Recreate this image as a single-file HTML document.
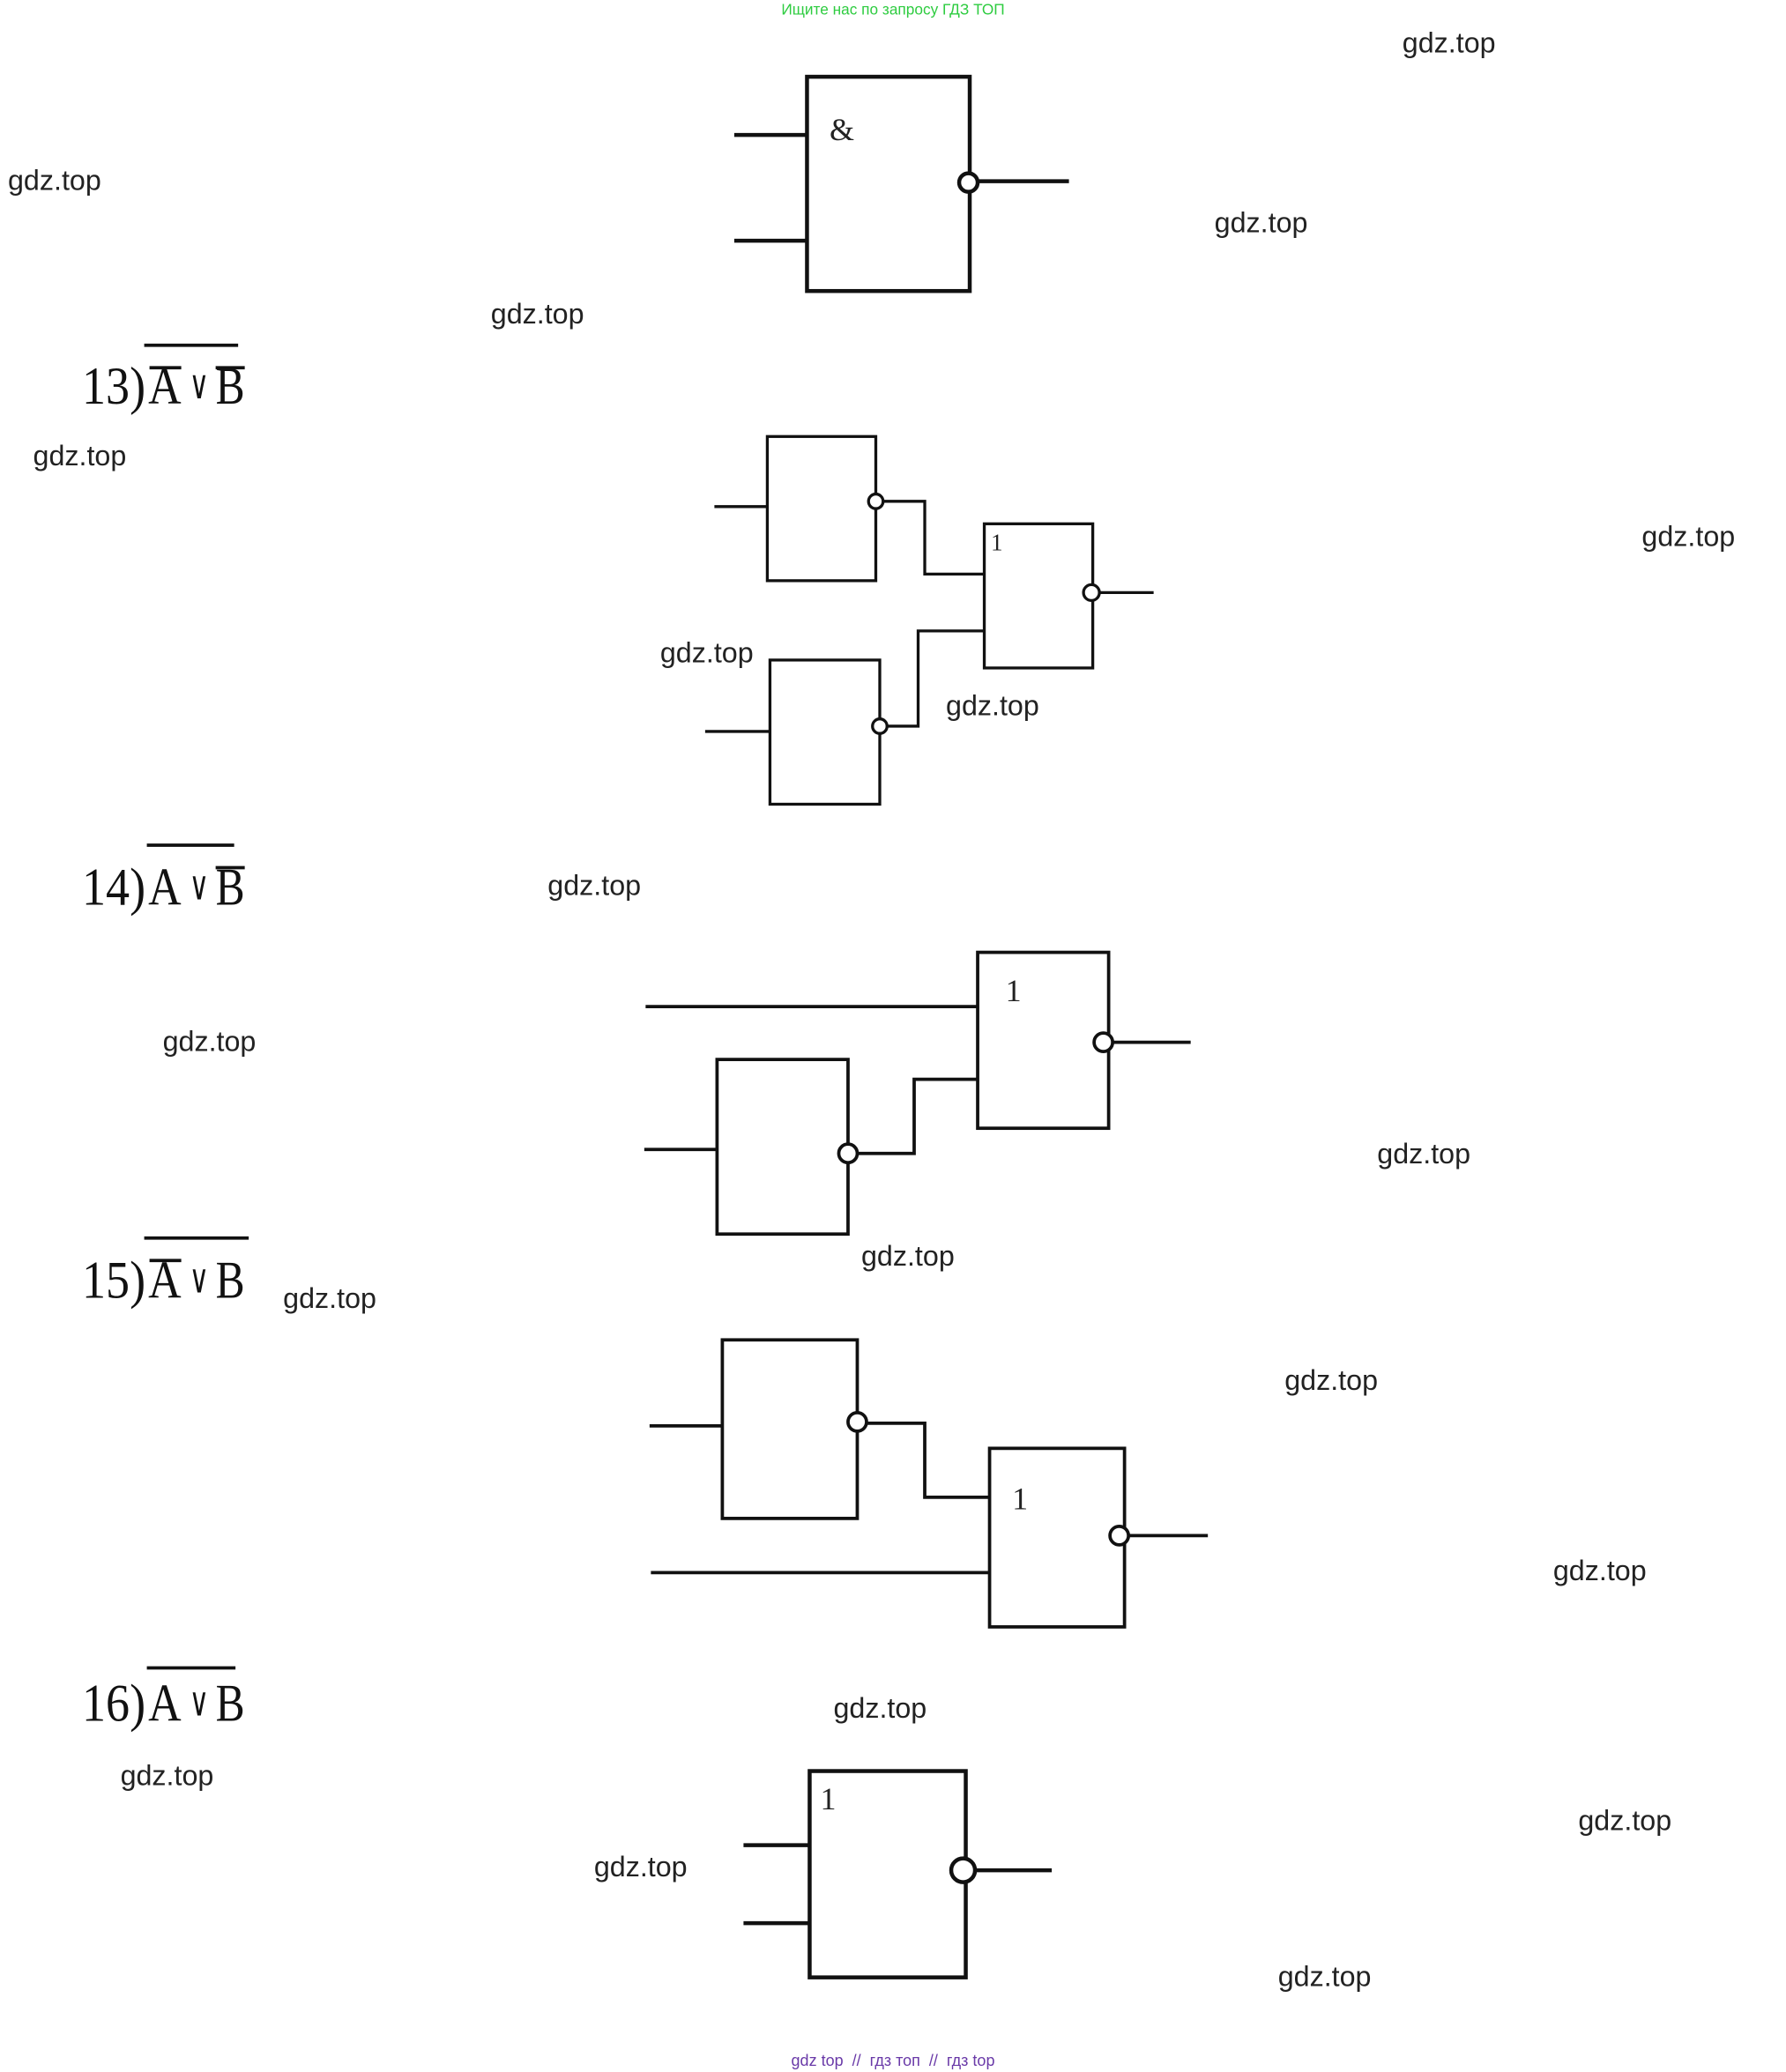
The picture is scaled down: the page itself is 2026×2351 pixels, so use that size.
<!DOCTYPE html>
<html><head><meta charset="utf-8"><style>
html,body{margin:0;padding:0;background:#fff;}
svg{display:block;}
.w{font-family:"Liberation Sans",sans-serif;font-size:21.5px;fill:#222;dominant-baseline:middle;}
.f{font-family:"Liberation Serif",serif;font-size:40px;fill:#111;}
.v{font-family:"DejaVu Serif","Liberation Serif",serif;font-size:30px;fill:#111;}
.g{font-family:"Liberation Serif",serif;fill:#222;}
</style></head><body>
<svg width="2026" height="2351" viewBox="0 0 1350 1566.5" xmlns="http://www.w3.org/2000/svg">
<g fill="none" stroke="#111">
<g stroke-width="3">
<rect x="610" y="58" width="123" height="162"/>
<line x1="555" y1="102" x2="610" y2="102"/>
<line x1="555" y1="182" x2="610" y2="182"/>
<circle cx="732" cy="138" r="7" fill="#fff"/>
<line x1="739" y1="137" x2="808" y2="137"/>
</g>
<g stroke-width="2.2">
<rect x="580" y="330" width="82" height="109"/>
<line x1="540" y1="383" x2="580" y2="383"/>
<circle cx="662" cy="379" r="5.5" fill="#fff"/>
<polyline points="668,379 699,379 699,434 744,434"/>
<rect x="582" y="499" width="83" height="109"/>
<line x1="533" y1="553" x2="582" y2="553"/>
<circle cx="665" cy="549" r="5.5" fill="#fff"/>
<polyline points="671,549 694,549 694,477 744,477"/>
<rect x="744" y="396" width="82" height="109"/>
<circle cx="825" cy="448" r="6" fill="#fff"/>
<line x1="831" y1="448" x2="872" y2="448"/>
</g>
<g stroke-width="2.5">
<rect x="739" y="720" width="99" height="133"/>
<line x1="488" y1="761" x2="739" y2="761"/>
<rect x="542" y="801" width="99" height="132"/>
<line x1="487" y1="869" x2="542" y2="869"/>
<circle cx="641" cy="872" r="7" fill="#fff"/>
<polyline points="648,872 691,872 691,816 739,816"/>
<circle cx="834" cy="788" r="7" fill="#fff"/>
<line x1="841" y1="788" x2="900" y2="788"/>
</g>
<g stroke-width="2.5">
<rect x="546" y="1013" width="102" height="135"/>
<line x1="491" y1="1078" x2="546" y2="1078"/>
<circle cx="648" cy="1075" r="7" fill="#fff"/>
<polyline points="655,1076 699,1076 699,1132 748,1132"/>
<rect x="748" y="1095" width="102" height="135"/>
<line x1="492" y1="1189" x2="748" y2="1189"/>
<circle cx="846" cy="1161" r="7" fill="#fff"/>
<line x1="853" y1="1161" x2="913" y2="1161"/>
</g>
<g stroke-width="3">
<rect x="612" y="1339" width="118" height="156"/>
<line x1="562" y1="1395" x2="612" y2="1395"/>
<line x1="562" y1="1454" x2="612" y2="1454"/>
<circle cx="728" cy="1414" r="9" fill="#fff"/>
<line x1="737" y1="1414" x2="795" y2="1414"/>
</g>
<g stroke-width="2.5">
<line x1="109" y1="261" x2="180" y2="261"/>
<line x1="113" y1="278" x2="137" y2="278"/>
<line x1="163" y1="278" x2="185" y2="278"/>
<line x1="111" y1="639" x2="177" y2="639"/>
<line x1="163" y1="656" x2="185" y2="656"/>
<line x1="109" y1="936" x2="188" y2="936"/>
<line x1="113" y1="953" x2="137" y2="953"/>
<line x1="111" y1="1261" x2="178" y2="1261"/>
</g>
</g>
<text class="g" x="627" y="106" font-size="24">&amp;</text>
<text class="g" x="749" y="416" font-size="18">1</text>
<text class="g" x="760" y="757" font-size="24">1</text>
<text class="g" x="765" y="1141" font-size="24">1</text>
<text class="g" x="620" y="1368" font-size="24">1</text>
<g>
<text class="f" x="62" y="305" textLength="48" lengthAdjust="spacingAndGlyphs">13)</text>
<text class="f" x="112" y="305" textLength="25" lengthAdjust="spacingAndGlyphs">A</text>
<text class="v" x="143" y="301" textLength="15" lengthAdjust="spacingAndGlyphs">∨</text>
<text class="f" x="163" y="305" textLength="22" lengthAdjust="spacingAndGlyphs">B</text>
<text class="f" x="62" y="684" textLength="48" lengthAdjust="spacingAndGlyphs">14)</text>
<text class="f" x="112" y="684" textLength="25" lengthAdjust="spacingAndGlyphs">A</text>
<text class="v" x="143" y="680" textLength="15" lengthAdjust="spacingAndGlyphs">∨</text>
<text class="f" x="163" y="684" textLength="22" lengthAdjust="spacingAndGlyphs">B</text>
<text class="f" x="62" y="981" textLength="48" lengthAdjust="spacingAndGlyphs">15)</text>
<text class="f" x="112" y="981" textLength="25" lengthAdjust="spacingAndGlyphs">A</text>
<text class="v" x="143" y="977" textLength="15" lengthAdjust="spacingAndGlyphs">∨</text>
<text class="f" x="163" y="981" textLength="22" lengthAdjust="spacingAndGlyphs">B</text>
<text class="f" x="62" y="1301" textLength="48" lengthAdjust="spacingAndGlyphs">16)</text>
<text class="f" x="112" y="1301" textLength="25" lengthAdjust="spacingAndGlyphs">A</text>
<text class="v" x="143" y="1297" textLength="15" lengthAdjust="spacingAndGlyphs">∨</text>
<text class="f" x="163" y="1301" textLength="22" lengthAdjust="spacingAndGlyphs">B</text>
</g>
<text x="675" y="11" text-anchor="middle" font-family="Liberation Sans,sans-serif" font-size="11.5" fill="#2ecc40">Ищите нас по запросу ГДЗ ТОП</text>
<text x="675" y="1562" text-anchor="middle" font-family="Liberation Sans,sans-serif" font-size="12" fill="#6a3aa8" xml:space="preserve">gdz top  //  гдз топ  //  гдз top</text>
<g>
<text class="w" x="1060" y="34">gdz.top</text>
<text class="w" x="6" y="138">gdz.top</text>
<text class="w" x="918" y="170">gdz.top</text>
<text class="w" x="371" y="239">gdz.top</text>
<text class="w" x="25" y="346">gdz.top</text>
<text class="w" x="1241" y="407">gdz.top</text>
<text class="w" x="499" y="495">gdz.top</text>
<text class="w" x="715" y="535">gdz.top</text>
<text class="w" x="414" y="671">gdz.top</text>
<text class="w" x="123" y="789">gdz.top</text>
<text class="w" x="1041" y="874">gdz.top</text>
<text class="w" x="651" y="951">gdz.top</text>
<text class="w" x="214" y="983">gdz.top</text>
<text class="w" x="971" y="1045">gdz.top</text>
<text class="w" x="1174" y="1189">gdz.top</text>
<text class="w" x="630" y="1293">gdz.top</text>
<text class="w" x="91" y="1344">gdz.top</text>
<text class="w" x="1193" y="1378">gdz.top</text>
<text class="w" x="449" y="1413">gdz.top</text>
<text class="w" x="966" y="1496">gdz.top</text>
</g>
</svg>
</body></html>
